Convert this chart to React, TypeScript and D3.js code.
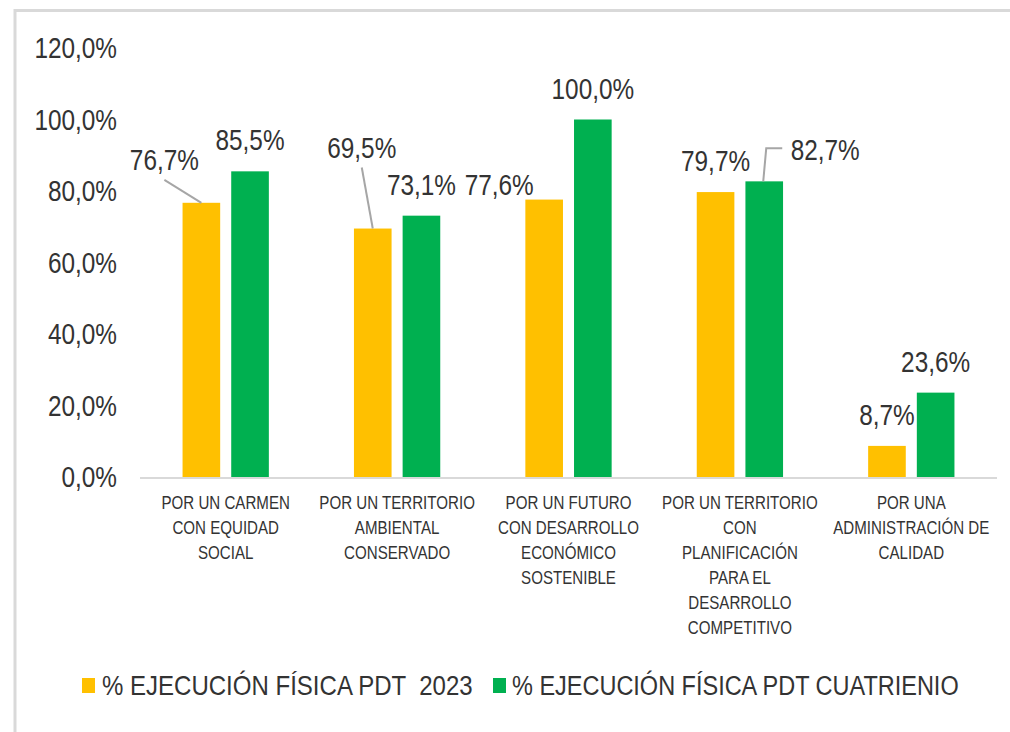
import React from 'react';
import * as d3 from 'd3';

const categories = [
  'POR UN CARMEN\nCON EQUIDAD\nSOCIAL',
  'POR UN TERRITORIO\nAMBIENTAL\nCONSERVADO',
  'POR UN FUTURO\nCON DESARROLLO\nECONÓMICO\nSOSTENIBLE',
  'POR UN TERRITORIO\nCON\nPLANIFICACIÓN\nPARA EL\nDESARROLLO\nCOMPETITIVO',
  'POR UNA\nADMINISTRACIÓN DE\nCALIDAD',
];
const series = ['% EJECUCIÓN FÍSICA PDT  2023', '% EJECUCIÓN FÍSICA PDT CUATRIENIO'];
const values2023 = [76.7, 69.5, 77.6, 79.7, 8.7];
const valuesCuatrienio = [85.5, 73.1, 100.0, 82.7, 23.6];
const yTicks = [0, 20, 40, 60, 80, 100, 120];

const colors = ['#FFC000', '#00B050'];
const FONT = '"Liberation Sans", Arial, sans-serif';
const textColor = '#333333';
const SQUEEZE = 0.84; // the original font is a narrow one

// manual label placement (dx, dy from default spot) and leader lines, like the excel one
const labelMoves: Record<string, { dx: number; dy: number; leader?: 'diag' | 'elbow' }> = {
  '0-0': { dx: -37, dy: -12, leader: 'diag' },
  '0-1': { dx: -11, dy: -50, leader: 'diag' },
  '0-2': { dx: -45, dy: 16 },
  '1-3': { dx: 61, dy: 0, leader: 'elbow' },
};

const fmt = (v: number) => v.toFixed(1).replace('.', ',') + '%';

function NText({ x, y, size, anchor = 'start', squeeze = SQUEEZE, children }: any) {
  return (
    <g transform={`translate(${x},${y}) scale(${squeeze},1)`}>
      <text
        x={0}
        y={0}
        textAnchor={anchor}
        fontFamily={FONT}
        fontSize={size}
        fill={textColor}
        style={{ whiteSpace: 'pre' }}
      >
        {children}
      </text>
    </g>
  );
}

export default function App() {
  const width = 1010;
  const height = 732;
  const x0 = 140;
  const x1 = 997;

  const y = d3.scaleLinear().domain([0, 120]).range([477, 48]);
  const x = d3
    .scaleBand<number>()
    .domain(d3.range(categories.length))
    .range([x0, x1])
    .paddingInner(0.4965)
    .paddingOuter(0.4965 / 2);
  const xs = d3.scaleBand<number>().domain([0, 1]).range([0, x.bandwidth()]).paddingInner(0.227);

  const allValues = [values2023, valuesCuatrienio];

  return (
    <div style={{ position: 'absolute', left: 0, top: 0 }}>
      <svg width={width} height={height} style={{ display: 'block', background: '#fff' }}>
        <rect x={15} y={10.5} width={1010} height={740} fill="none" stroke="#d9d9d9" strokeWidth={3} />

        {/* y axis labels */}
        {yTicks.map((t) => (
          <NText key={t} x={117} y={y(t) + 10} size={29} anchor="end">
            {fmt(t)}
          </NText>
        ))}

        {/* bars */}
        {allValues.map((vals, s) =>
          vals.map((v, i) => (
            <rect
              key={`${s}-${i}`}
              x={(x(i) ?? 0) + (xs(s) ?? 0)}
              y={y(v)}
              width={xs.bandwidth()}
              height={y(0) - y(v)}
              fill={colors[s]}
            />
          ))
        )}

        <line x1={x0} x2={x1} y1={y(0) + 1} y2={y(0) + 1} stroke="#d9d9d9" strokeWidth={2} />

        {/* data labels */}
        {allValues.map((vals, s) =>
          vals.map((v, i) => {
            const bx = (x(i) ?? 0) + (xs(s) ?? 0) + xs.bandwidth() / 2;
            const by = y(v);
            const m = labelMoves[`${s}-${i}`] || { dx: 0, dy: 0 };
            const cx = bx + m.dx;
            const cy = by - 31 + m.dy;
            let leader = null;
            if (m.leader === 'diag') {
              leader = (
                <line x1={cx} y1={cy + 20} x2={bx} y2={by} stroke="#a6a6a6" strokeWidth={2} />
              );
            } else if (m.leader === 'elbow') {
              const lx = cx - 43;
              leader = (
                <polyline
                  points={`${bx - 1},${by} ${bx + 2},${cy - 2} ${lx},${cy - 2}`}
                  fill="none"
                  stroke="#a6a6a6"
                  strokeWidth={2}
                />
              );
            }
            return (
              <g key={`l-${s}-${i}`}>
                {leader}
                <NText x={cx} y={cy + 10} size={29} anchor="middle">
                  {fmt(v)}
                </NText>
              </g>
            );
          })
        )}

        {/* category labels */}
        {categories.map((c, i) => {
          const cx = (x(i) ?? 0) + x.bandwidth() / 2;
          return (
            <g key={c}>
              {c.split('\n').map((line, k) => (
                <NText key={k} x={cx} y={509 + k * 25} size={18} anchor="middle">
                  {line}
                </NText>
              ))}
            </g>
          );
        })}

        {/* legend */}
        <rect x={82} y={678} width={13} height={15} fill={colors[0]} />
        <NText x={102} y={695} size={27} squeeze={0.89}>
          {series[0]}
        </NText>
        <rect x={493} y={678} width={13} height={15} fill={colors[1]} />
        <NText x={512} y={695} size={27} squeeze={0.87}>
          {series[1]}
        </NText>
      </svg>
    </div>
  );
}
